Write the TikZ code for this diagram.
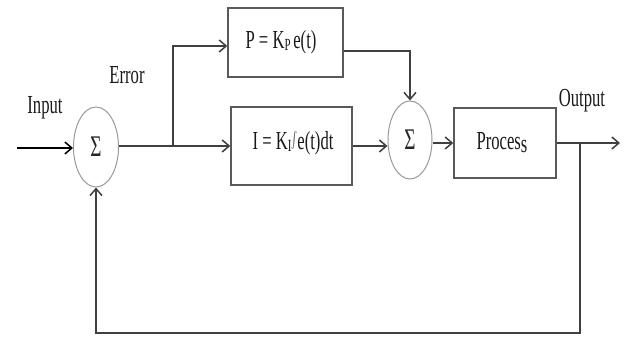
\documentclass[tikz,border=0pt]{standalone}
\usepackage{fontspec}
\setmainfont{Liberation Serif}
\usetikzlibrary{arrows.meta,shapes.geometric}
\newcommand{\cnd}[1]{\scalebox{0.64}[1]{#1}}
\begin{document}
\begin{tikzpicture}[x=1pt,y=-1pt,
  lbl/.style={font=\fontsize{26}{26}\selectfont, inner sep=0pt, text=black!90},
  blk/.style={draw=black!65, line width=1.4pt, inner sep=0pt},
  sumnode/.style={ellipse, draw=black!40, line width=1pt, inner sep=0pt,
    font=\fontsize{30}{30}\selectfont, text=black!85},
  sig/.style={draw=black!75, line width=1.4pt},
  arr/.style={sig, -{Straight Barb[length=7pt,width=12pt,line width=1.5pt]}}]
\useasboundingbox (0,0) rectangle (624,339);

% blocks
\node[blk, minimum width=115pt, minimum height=69pt] (pbox) at (285.5,42.5) {};
\node[blk, minimum width=121pt, minimum height=78pt] (ibox) at (291.5,146) {};
\node[blk, minimum width=102pt, minimum height=70pt] (proc) at (505,143) {};
\node[sumnode, minimum width=45pt, minimum height=80pt] (s1) at (96,147) {\cnd{Σ}};
\node[sumnode, minimum width=44pt, minimum height=78pt] (s2) at (410,140) {\cnd{Σ}};

% texts
\node[lbl] (ptext) at (281,42) {\cnd{P = K\raisebox{-2pt}{\fontsize{17}{17}\selectfont P}\,e(t)}};
\node[lbl] (itext) at (293,143) {\cnd{I = K\raisebox{-2pt}{\fontsize{17}{17}\selectfont I}\raisebox{-1pt}{\scalebox{1.4}[1.6]{$\int$}}e(t)dt}};
\node[lbl] (ptxt) at (502,143) {\cnd{Proces\raisebox{-3pt}{s}}};
\node[lbl] (inputlbl) at (45,108) {\cnd{Input}};
\node[lbl] (errorlbl) at (127,75) {\cnd{Error}};
\node[lbl] (outputlbl) at (582,101) {\cnd{Output}};

% connectors
\coordinate (in) at (17,148);
\coordinate (br) at (173,146);
\coordinate (ob) at (580,143);
\coordinate (out) at (620,143);
\coordinate (fb) at (580,333);

\draw[arr, draw=black, line width=2pt] (in) -- (in -| s1.west);
\draw[sig] (s1.east |- ibox.west) -- (br);
\draw[arr] (br) -- (ibox.west);
\draw[arr] (br) |- ([yshift=-3.5pt]pbox.west);
\draw[arr] ([yshift=-8.5pt]pbox.east) -| (s2.north);
\draw[arr] (ibox.east) -- (ibox.east -| s2.west);
\draw[arr] (s2.east |- proc.west) -- (proc.west);
\draw[arr] (proc.east) -- (out);
\draw[arr] (ob) -- (fb) -| (s1.south);
\end{tikzpicture}
\end{document}
